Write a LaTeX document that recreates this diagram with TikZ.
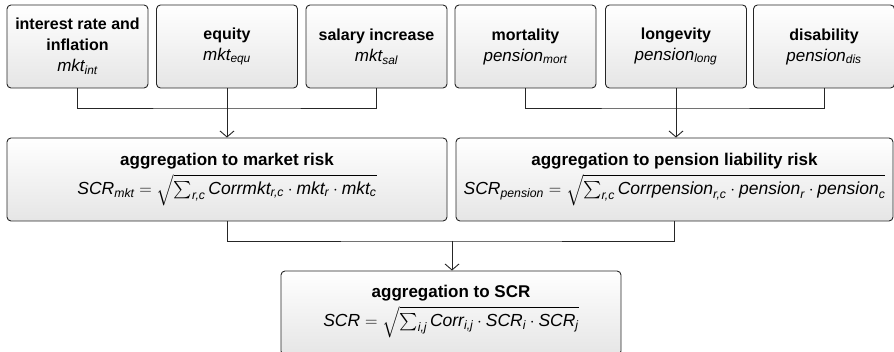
\documentclass[tikz,border=0pt]{standalone}
\usepackage{amsmath}
\usepackage{fontspec}
\setmainfont{Liberation Sans}
\usetikzlibrary{positioning,calc,arrows.meta}

\newcommand{\riskname}[1]{\textbf{#1}}
\newcommand{\riskvar}[1]{{\fontsize{17}{21}\selectfont\itshape #1}}
\newcommand{\aggname}[1]{{\fontsize{17}{21}\selectfont\bfseries #1}}
\newcommand{\aggformula}[1]{{\fontsize{17.5}{22}\selectfont\itshape #1}}
\newcommand{\mv}[1]{\textit{#1}}

\begin{document}
\begin{tikzpicture}[x=1pt, y=-1pt,
    riskbox/.style={draw=black!85, line width=0.9pt, rounded corners=4pt,
        top color=white, bottom color=black!10, align=center, inner sep=2pt,
        font=\fontsize{16}{21}\selectfont},
    modbox/.style={riskbox, minimum width=141pt, minimum height=83pt},
    aggbox/.style={riskbox, minimum height=83pt},
    link/.style={line width=0.9pt, draw=black!85},
    feed/.style={link, -{Straight Barb[length=6pt,width=14pt]}}]
    \useasboundingbox (0,0) rectangle (894,352);
    \clip (0,0) rectangle (894,352);

    % Market risk modules
    \node[modbox] (int) at (77.5,46.5) {\riskname{interest rate and}\\\riskname{inflation}\\\riskvar{mkt\textsubscript{int}}};
    \node[modbox] (equ) at (227,46.5) {\riskname{equity}\\\riskvar{mkt\textsubscript{equ}}};
    \node[modbox] (sal) at (376.5,46.5) {\riskname{salary increase}\\\riskvar{mkt\textsubscript{sal}}};

    % Pension liability modules
    \node[modbox] (mort) at (525.5,46.5) {\riskname{mortality}\\\riskvar{pension\textsubscript{mort}}};
    \node[modbox] (long) at (676,46.5) {\riskname{longevity}\\\riskvar{pension\textsubscript{long}}};
    \node[modbox] (dis) at (824,46.5) {\riskname{disability}\\\riskvar{pension\textsubscript{dis}}};

    % Aggregation
    \node[aggbox, minimum width=440pt] (mktagg) at (227,179.5) {\aggname{aggregation to market risk}\\[4pt]
        \aggformula{$\mv{SCR}_{\mv{mkt}} = \sqrt{\sum_{\mv{r,c}} \mv{Corrmkt}_{\mv{r,c}} \cdot \mv{mkt}_{\mv{r}} \cdot \mv{mkt}_{\mv{c}}}$}};
    \node[aggbox, minimum width=437pt] (penagg) at (674.5,179.5) {\aggname{aggregation to pension liability risk}\\[4pt]
        \aggformula{$\mv{SCR}_{\mv{pension}} = \sqrt{\sum_{\mv{r,c}} \mv{Corrpension}_{\mv{r,c}} \cdot \mv{pension}_{\mv{r}} \cdot \mv{pension}_{\mv{c}}}$}};
    \node[aggbox, minimum width=340pt, minimum height=84pt, text depth=14pt] (scr) at (451,313) {\aggname{aggregation to SCR}\\[4pt]
        \aggformula{$\mv{SCR} = \sqrt{\sum_{\mv{i,j}} \mv{Corr}_{\mv{i,j}} \cdot \mv{SCR}_{\mv{i}} \cdot \mv{SCR}_{\mv{j}}}$}};

    % Connectors
    \coordinate (mktjoin) at (227,108);
    \coordinate (penjoin) at (676,108);
    \coordinate (scrjoin) at (452,241);
    \draw[link] (int.south) |- (mktjoin) -| (sal.south);
    \draw[feed] (equ.south) -- (mktagg.north);
    \draw[link] (mort.south) |- (penjoin) -| (dis.south);
    \draw[feed] (long.south) -- (long.south |- penagg.north);
    \draw[link] (mktagg.south) |- (scrjoin) -| (penagg.south);
    \draw[feed] (scrjoin) -- (scrjoin |- scr.north);
\end{tikzpicture}
\end{document}
